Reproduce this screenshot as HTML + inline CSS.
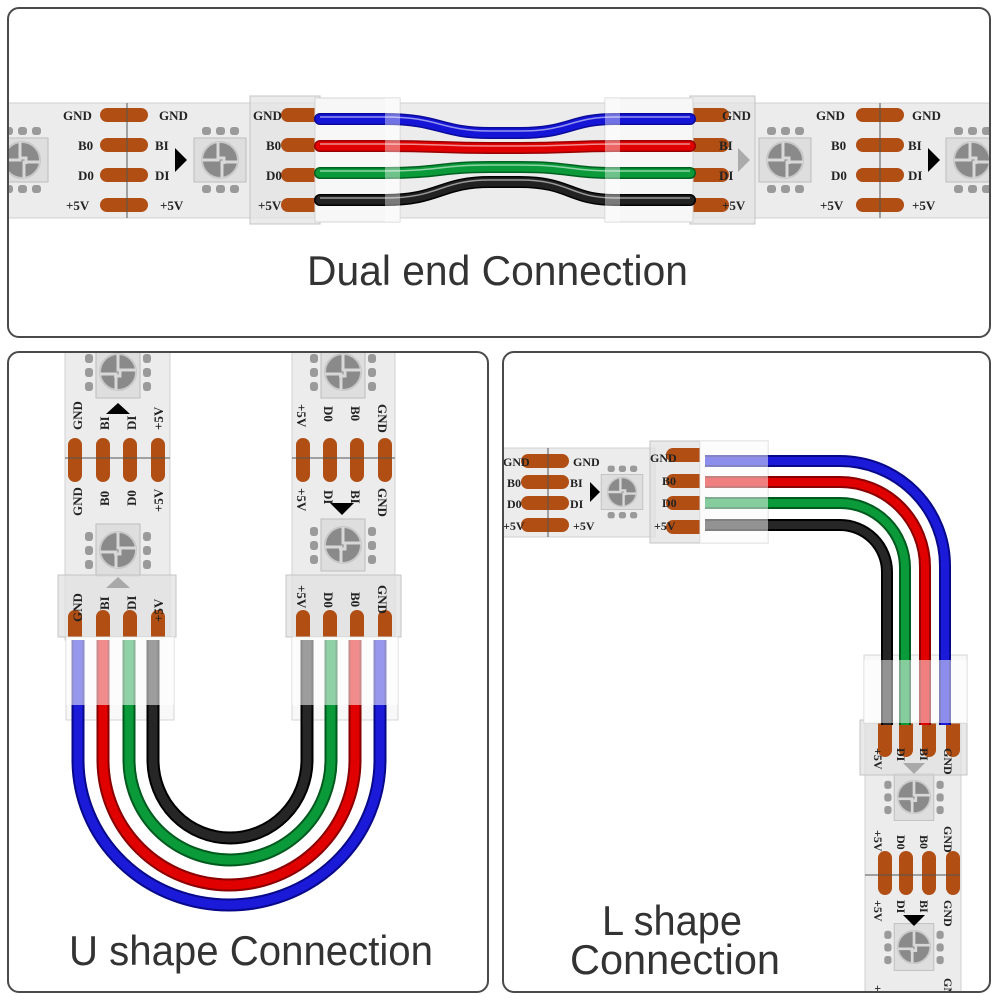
<!DOCTYPE html>
<html><head><meta charset="utf-8"><style>
html,body{margin:0;padding:0;background:#fff;}
svg{display:block;}
.lb{font-family:"Liberation Serif",serif;font-weight:bold;font-size:13px;fill:#222;}
.tt{font-family:"Liberation Sans",sans-serif;font-size:42px;fill:#333;}
</style></head><body>
<svg width="1000" height="1000" viewBox="0 0 1000 1000" xmlns="http://www.w3.org/2000/svg">
<defs>
<g id="led">
 <rect x="-26" y="-22" width="52" height="44" fill="#dedede" stroke="#bdbdbd"/>
 <rect x="-18" y="-33" width="9" height="8" rx="3" fill="#9a9a9a"/>
 <rect x="-4" y="-33" width="9" height="8" rx="3" fill="#9a9a9a"/>
 <rect x="10" y="-33" width="9" height="8" rx="3" fill="#9a9a9a"/>
 <rect x="-18" y="25" width="9" height="8" rx="3" fill="#9a9a9a"/>
 <rect x="-4" y="25" width="9" height="8" rx="3" fill="#9a9a9a"/>
 <rect x="10" y="25" width="9" height="8" rx="3" fill="#9a9a9a"/>
 <circle r="18" fill="#8a8a8a" stroke="#c8c8c8" stroke-width="2"/>
 <path d="M-18,0 H-2 V-18 M2,18 V2 H18 M-2,-2 H4 V4" stroke="#d8d8d8" stroke-width="3" fill="none"/>
</g>
<g id="padh"><rect x="-24" y="-7" width="48" height="14" rx="7" fill="#b04e14"/></g>
<g id="padv"><rect x="-7" y="-22" width="14" height="44" rx="7" fill="#b04e14"/></g>
<clipPath id="c1"><rect x="9" y="9" width="980" height="327" rx="10"/></clipPath>
<clipPath id="c2"><rect x="9" y="353" width="478" height="638" rx="10"/></clipPath>
<clipPath id="c3"><rect x="504" y="353" width="485" height="638" rx="10"/></clipPath>
</defs>

<rect x="8" y="8" width="982" height="329" rx="11" fill="#fff" stroke="#4a4a4a" stroke-width="2"/>
<rect x="8" y="352" width="480" height="640" rx="11" fill="#fff" stroke="#4a4a4a" stroke-width="2"/>
<rect x="503" y="352" width="487" height="640" rx="11" fill="#fff" stroke="#4a4a4a" stroke-width="2"/>

<g clip-path="url(#c1)">
 <rect x="0" y="103" width="1000" height="115" fill="#ececec" stroke="#d0d0d0"/>
 <use href="#led" x="22" y="160"/>
 <use href="#led" x="220" y="160"/>
 <use href="#led" x="785" y="160"/>
 <use href="#led" x="972" y="160"/>
 <g>
  <use href="#padh" x="124" y="115"/><use href="#padh" x="124" y="145"/><use href="#padh" x="124" y="175"/><use href="#padh" x="124" y="205"/>
  <use href="#padh" x="880" y="115"/><use href="#padh" x="880" y="145"/><use href="#padh" x="880" y="175"/><use href="#padh" x="880" y="205"/>
  <line x1="127" y1="103" x2="127" y2="218" stroke="#555"/>
  <line x1="880" y1="103" x2="880" y2="218" stroke="#555"/>
 </g>
 <text class="lb" x="63" y="120">GND</text><text class="lb" x="78" y="150">B0</text><text class="lb" x="78" y="180">D0</text><text class="lb" x="66" y="210">+5V</text>
 <text class="lb" x="159" y="120">GND</text><text class="lb" x="155" y="150">BI</text><text class="lb" x="155" y="180">DI</text><text class="lb" x="160" y="210">+5V</text>
 <path d="M175,148 L187,160 L175,172Z" fill="#000"/>
 <text class="lb" x="816" y="120">GND</text><text class="lb" x="831" y="150">B0</text><text class="lb" x="831" y="180">D0</text><text class="lb" x="820" y="210">+5V</text>
 <text class="lb" x="912" y="120">GND</text><text class="lb" x="908" y="150">BI</text><text class="lb" x="908" y="180">DI</text><text class="lb" x="912" y="210">+5V</text>
 <path d="M928,148 L940,160 L928,172Z" fill="#000"/>
 <path d="M738,148 L750,160 L738,172Z" fill="#000"/>

 <rect x="250" y="96" width="70" height="128" fill="#e4e4e4" fill-opacity="0.75" stroke="#c4c4c4"/>
 <use href="#padh" x="305" y="115"/><use href="#padh" x="305" y="145"/><use href="#padh" x="305" y="175"/><use href="#padh" x="305" y="205"/>
 <rect x="315" y="98" width="85" height="124" fill="#f7f7f7" stroke="#d4d4d4"/>
 <text class="lb" x="253" y="120">GND</text><text class="lb" x="266" y="150">B0</text><text class="lb" x="266" y="180">D0</text><text class="lb" x="258" y="210">+5V</text>
 <rect x="690" y="96" width="65" height="128" fill="#e4e4e4" fill-opacity="0.75" stroke="#c4c4c4"/>
 <use href="#padh" x="705" y="115"/><use href="#padh" x="705" y="145"/><use href="#padh" x="705" y="175"/><use href="#padh" x="705" y="205"/>
 <rect x="605" y="98" width="88" height="124" fill="#f7f7f7" stroke="#d4d4d4"/>
 <text class="lb" x="722" y="120">GND</text><text class="lb" x="719" y="150">BI</text><text class="lb" x="719" y="180">DI</text><text class="lb" x="722" y="210">+5V</text>

 <g fill="none" stroke-linecap="round">
  <path d="M320,119 H385 C440,119 440,133 490,133 H520 C570,133 570,119 615,119 H690" stroke="#0a0a9a" stroke-width="12"/>
  <path d="M320,119 H385 C440,119 440,133 490,133 H520 C570,133 570,119 615,119 H690" stroke="#1515d8" stroke-width="9"/>
  <path d="M320,146 H385 C440,146 440,148 490,148 H520 C570,148 570,146 615,146 H690" stroke="#900" stroke-width="12"/>
  <path d="M320,146 H385 C440,146 440,148 490,148 H520 C570,148 570,146 615,146 H690" stroke="#e00000" stroke-width="9"/>
  <path d="M320,173 H385 C440,173 440,167 490,167 H520 C570,167 570,173 615,173 H690" stroke="#006020" stroke-width="12"/>
  <path d="M320,173 H385 C440,173 440,167 490,167 H520 C570,167 570,173 615,173 H690" stroke="#0a9a3a" stroke-width="9"/>
  <path d="M320,200 H385 C440,200 440,182 490,182 H520 C570,182 570,200 615,200 H690" stroke="#000" stroke-width="12"/>
  <path d="M320,200 H385 C440,200 440,182 490,182 H520 C570,182 570,200 615,200 H690" stroke="#222" stroke-width="9"/>
 </g>
 <g stroke="#fff" stroke-opacity="0.55" stroke-width="1.5" fill="none">
  <path d="M320,117 H385 C440,117 440,131 490,131 H520 C570,131 570,117 615,117 H690"/>
  <path d="M320,144 H385 C440,144 440,146 490,146 H520 C570,146 570,144 615,144 H690"/>
  <path d="M320,171 H385 C440,171 440,165 490,165 H520 C570,165 570,171 615,171 H690"/>
  <path d="M320,198 H385 C440,198 440,180 490,180 H520 C570,180 570,198 615,198 H690"/>
 </g>
 <rect x="385" y="98" width="15" height="124" fill="#fff" fill-opacity="0.4"/>
 <rect x="605" y="98" width="15" height="124" fill="#fff" fill-opacity="0.4"/>
</g>
<text class="tt" x="307" y="285" textLength="381" lengthAdjust="spacingAndGlyphs">Dual end Connection</text>

<g clip-path="url(#c2)">
 <rect x="65" y="340" width="105" height="300" fill="#ececec" stroke="#d0d0d0"/>
 <rect x="292" y="340" width="103" height="300" fill="#ececec" stroke="#d0d0d0"/>
 <use href="#led" transform="translate(118,372) rotate(90)"/>
 <use href="#led" transform="translate(118,550) rotate(90)"/>
 <use href="#led" transform="translate(343,372) rotate(90)"/>
 <use href="#led" transform="translate(343,545) rotate(90)"/>
 <use href="#padv" x="75" y="460"/><use href="#padv" x="103" y="460"/><use href="#padv" x="130" y="460"/><use href="#padv" x="158" y="460"/>
 <use href="#padv" x="303" y="460"/><use href="#padv" x="330" y="460"/><use href="#padv" x="357" y="460"/><use href="#padv" x="385" y="460"/>
 <line x1="65" y1="458" x2="170" y2="458" stroke="#555"/>
 <line x1="292" y1="458" x2="395" y2="458" stroke="#555"/>
 <path d="M106,414 L118,403 L130,414Z" fill="#000"/>
 <path d="M106,588 L118,577 L130,588Z" fill="#000"/>
 <path d="M330,503 L342,515 L354,503Z" fill="#000"/>
 <g class="lb">
  <text transform="translate(82,430) rotate(-90)">GND</text>
  <text transform="translate(109,430) rotate(-90)">BI</text>
  <text transform="translate(136,430) rotate(-90)">DI</text>
  <text transform="translate(163,430) rotate(-90)">+5V</text>
  <text transform="translate(82,516) rotate(-90)">GND</text>
  <text transform="translate(109,506) rotate(-90)">B0</text>
  <text transform="translate(136,506) rotate(-90)">D0</text>
  <text transform="translate(163,512) rotate(-90)">+5V</text>
  <text transform="translate(297,404) rotate(90)">+5V</text>
  <text transform="translate(324,406) rotate(90)">D0</text>
  <text transform="translate(351,406) rotate(90)">B0</text>
  <text transform="translate(378,404) rotate(90)">GND</text>
  <text transform="translate(297,488) rotate(90)">+5V</text>
  <text transform="translate(324,490) rotate(90)">DI</text>
  <text transform="translate(351,490) rotate(90)">BI</text>
  <text transform="translate(378,488) rotate(90)">GND</text>
 </g>
 <rect x="58" y="575" width="118" height="62" fill="#e2e2e2" fill-opacity="0.75" stroke="#c4c4c4"/>
 <rect x="286" y="575" width="115" height="62" fill="#e2e2e2" fill-opacity="0.75" stroke="#c4c4c4"/>
 <use href="#padv" x="75" y="632"/><use href="#padv" x="103" y="632"/><use href="#padv" x="130" y="632"/><use href="#padv" x="158" y="632"/>
 <use href="#padv" x="303" y="632"/><use href="#padv" x="330" y="632"/><use href="#padv" x="357" y="632"/><use href="#padv" x="385" y="632"/>
 <g class="lb">
  <text transform="translate(82,622) rotate(-90)">GND</text>
  <text transform="translate(109,610) rotate(-90)">BI</text>
  <text transform="translate(136,610) rotate(-90)">DI</text>
  <text transform="translate(163,622) rotate(-90)">+5V</text>
  <text transform="translate(297,585) rotate(90)">+5V</text>
  <text transform="translate(324,592) rotate(90)">D0</text>
  <text transform="translate(351,592) rotate(90)">B0</text>
  <text transform="translate(378,585) rotate(90)">GND</text>
 </g>
 <rect x="66" y="637" width="108" height="83" fill="#f8f8f8" stroke="#d4d4d4"/>
 <rect x="292" y="637" width="106" height="83" fill="#f8f8f8" stroke="#d4d4d4"/>
 <g fill="none">
  <path d="M78,640 V760 A151,145 0 0 0 380,760 V640" stroke="#08088a" stroke-width="13"/>
  <path d="M78,640 V760 A151,145 0 0 0 380,760 V640" stroke="#1a1ad8" stroke-width="9"/>
  <path d="M103,640 V760 A126,125 0 0 0 355,760 V640" stroke="#8a0000" stroke-width="13"/>
  <path d="M103,640 V760 A126,125 0 0 0 355,760 V640" stroke="#e00000" stroke-width="9"/>
  <path d="M129,640 V760 A101,100 0 0 0 331,760 V640" stroke="#005a1e" stroke-width="13"/>
  <path d="M129,640 V760 A101,100 0 0 0 331,760 V640" stroke="#0a9a3a" stroke-width="9"/>
  <path d="M153,640 V760 A77,78 0 0 0 307,760 V640" stroke="#000" stroke-width="13"/>
  <path d="M153,640 V760 A77,78 0 0 0 307,760 V640" stroke="#262626" stroke-width="9"/>
 </g>
 <rect x="66" y="637" width="108" height="68" fill="#fff" fill-opacity="0.55"/>
 <rect x="292" y="637" width="106" height="68" fill="#fff" fill-opacity="0.55"/>
</g>
<text class="tt" x="69" y="965" textLength="364" lengthAdjust="spacingAndGlyphs">U shape Connection</text>

<g clip-path="url(#c3)">
 <rect x="495" y="448" width="160" height="89" fill="#ececec" stroke="#d0d0d0"/>
 <use href="#padh" x="545" y="461"/><use href="#padh" x="545" y="482"/><use href="#padh" x="545" y="503"/><use href="#padh" x="545" y="525"/>
 <line x1="548" y1="448" x2="548" y2="537" stroke="#555"/>
 <use href="#led" transform="translate(622,492) scale(0.8)"/>
 <path d="M590,482 L600,492 L590,502Z" fill="#000"/>
 <g class="lb" style="font-size:12px">
  <text x="503" y="466">GND</text><text x="507" y="487">B0</text><text x="507" y="508">D0</text><text x="503" y="530">+5V</text>
  <text x="573" y="466">GND</text><text x="570" y="487">BI</text><text x="570" y="508">DI</text><text x="573" y="530">+5V</text>
 </g>
 <rect x="650" y="441" width="50" height="102" fill="#e2e2e2" fill-opacity="0.75" stroke="#c4c4c4"/>
 <use href="#padh" x="690" y="455"/><use href="#padh" x="690" y="481"/><use href="#padh" x="690" y="503"/><use href="#padh" x="690" y="527"/>
 <g class="lb" style="font-size:12px">
  <text x="650" y="462">GND</text><text x="662" y="485">B0</text><text x="662" y="507">D0</text><text x="654" y="530">+5V</text>
 </g>
 <rect x="700" y="441" width="68" height="102" fill="#f8f8f8" stroke="#d4d4d4"/>

 <rect x="865" y="700" width="96" height="300" fill="#ececec" stroke="#d0d0d0"/>
 <use href="#led" transform="translate(914,797) rotate(90) scale(0.9)"/>
 <use href="#led" transform="translate(914,947) rotate(90) scale(0.9)"/>
 <use href="#padv" x="885" y="873"/><use href="#padv" x="906" y="873"/><use href="#padv" x="929" y="873"/><use href="#padv" x="953" y="873"/>
 <line x1="865" y1="875" x2="960" y2="875" stroke="#555"/>
 <path d="M903,763 L914,774 L925,763Z" fill="#000"/>
 <path d="M903,915 L914,926 L925,915Z" fill="#000"/>
 <g class="lb" style="font-size:12px">
  <text transform="translate(874,830) rotate(90)">+5V</text>
  <text transform="translate(897,835) rotate(90)">D0</text>
  <text transform="translate(920,835) rotate(90)">B0</text>
  <text transform="translate(944,826) rotate(90)">GND</text>
  <text transform="translate(874,900) rotate(90)">+5V</text>
  <text transform="translate(897,900) rotate(90)">DI</text>
  <text transform="translate(920,900) rotate(90)">BI</text>
  <text transform="translate(944,900) rotate(90)">GND</text>
  <text transform="translate(874,985) rotate(90)">+5V</text>
  <text transform="translate(944,978) rotate(90)">GND</text>
 </g>
 <rect x="860" y="720" width="107" height="55" fill="#e2e2e2" fill-opacity="0.75" stroke="#c4c4c4"/>
 <use href="#padv" x="885" y="735"/><use href="#padv" x="906" y="735"/><use href="#padv" x="929" y="735"/><use href="#padv" x="953" y="735"/>
 <g class="lb" style="font-size:12px">
  <text transform="translate(874,748) rotate(90)">+5V</text>
  <text transform="translate(897,748) rotate(90)">DI</text>
  <text transform="translate(920,748) rotate(90)">BI</text>
  <text transform="translate(944,748) rotate(90)">GND</text>
 </g>
 <rect x="864" y="655" width="103" height="68" fill="#f8f8f8" stroke="#d4d4d4"/>

 <g fill="none">
  <path d="M705,461 H840 A105,105 0 0 1 945,566 V725" stroke="#08088a" stroke-width="12"/>
  <path d="M705,461 H840 A105,105 0 0 1 945,566 V725" stroke="#1a1ad8" stroke-width="8"/>
  <path d="M705,482 H840 A85,85 0 0 1 925,567 V725" stroke="#8a0000" stroke-width="12"/>
  <path d="M705,482 H840 A85,85 0 0 1 925,567 V725" stroke="#e00000" stroke-width="8"/>
  <path d="M705,503 H840 A65,65 0 0 1 905,568 V725" stroke="#005a1e" stroke-width="12"/>
  <path d="M705,503 H840 A65,65 0 0 1 905,568 V725" stroke="#0a9a3a" stroke-width="8"/>
  <path d="M705,525 H840 A47,47 0 0 1 887,572 V725" stroke="#000" stroke-width="12"/>
  <path d="M705,525 H840 A47,47 0 0 1 887,572 V725" stroke="#262626" stroke-width="8"/>
 </g>
 <rect x="700" y="441" width="68" height="102" fill="#fff" fill-opacity="0.5"/>
 <rect x="864" y="660" width="103" height="63" fill="#fff" fill-opacity="0.5"/>
</g>
<text class="tt" x="602" y="935" textLength="140" lengthAdjust="spacingAndGlyphs">L shape</text>
<text class="tt" x="570" y="974" textLength="210" lengthAdjust="spacingAndGlyphs">Connection</text>
</svg>
</body></html>
